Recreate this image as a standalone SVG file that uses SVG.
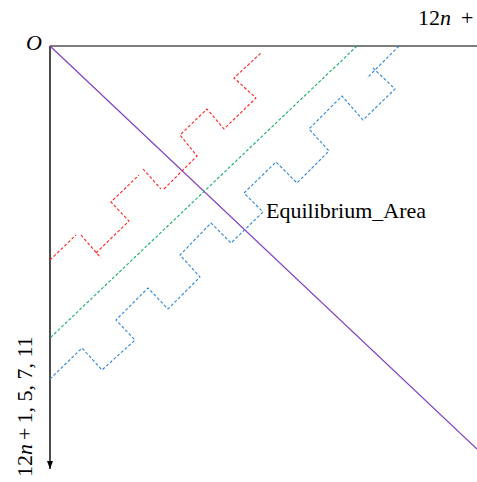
<svg xmlns="http://www.w3.org/2000/svg" width="477" height="482" viewBox="0 0 477 482">
<defs>
<marker id="arr" markerWidth="8" markerHeight="8" refX="8" refY="4" orient="auto" markerUnits="userSpaceOnUse">
<path d="M0,1 L8,4 L0,7 Z" fill="#000"/>
</marker>
<style>
.lbl{font-family:"Liberation Serif","Times New Roman",serif;font-size:22px;fill:#000}
.it{font-style:italic}
.dash{fill:none;stroke-width:1.1;stroke-dasharray:3 2;stroke-linejoin:miter}
.red{stroke:#FF2020}
.green{stroke:#10B060}
.blue{stroke:#2E86D6}
</style>
</defs>
<rect width="477" height="482" fill="#fff"/>
<g id="axes">
<line x1="50" y1="46" x2="477" y2="46" stroke="#555" stroke-width="1.6"/>
<line x1="50" y1="46" x2="50" y2="469" stroke="#000" stroke-width="1.4" marker-end="url(#arr)"/>
</g>
<g id="curves">
<line id="equilibrium-line" x1="50" y1="46" x2="477" y2="449" stroke="#7F3FBF" stroke-width="1.2"/>
<line id="green-line" class="dash green" x1="357" y1="46" x2="50" y2="338"/>
<g id="red-path" class="dash red">
<path d="M50,260 L76,235"/>
<path d="M81,235 L101,258"/>
<path d="M96,253 L129,221 L111,202 L139,175"/>
<path d="M143,169 L161,189"/>
<path d="M164,189 L197,156 L180,135 L207,109 L224,129 L256,98 L234,78 L262,52"/>
</g>
<g id="blue-path" class="dash blue">
<path d="M50,379 L82,348 L102,370 L135,340 L116,320 L148,288 L168,309 L200,277 L180,255 L211,223 L231,243 L263,212 L244,193 L276,162 L297,183 L329,151 L309,129 L342,96 L363,120 L395,89 L373,68"/>
<path d="M399,46 L367,78"/>
</g>
</g>
<g id="labels">
<text class="lbl it" x="26" y="50">O</text>
<text class="lbl" x="418" y="25">12<tspan class="it">n</tspan><tspan dx="10">+</tspan><tspan dx="3">1</tspan></text>
<text class="lbl" transform="translate(32,477) rotate(-90)" x="0" y="0">12<tspan class="it">n</tspan><tspan dx="4">+</tspan><tspan dx="4">1, 5, 7, 11</tspan></text>
<text class="lbl" x="266" y="218">Equilibrium_Area</text>
</g>
</svg>
